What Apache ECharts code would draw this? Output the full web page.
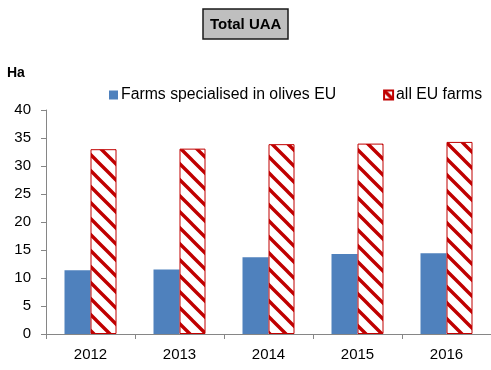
<!DOCTYPE html>
<html>
<head>
<meta charset="utf-8">
<script src="https://cdn.jsdelivr.net/npm/echarts@6/dist/echarts.min.js"></script>
<style>
  html, body { margin: 0; padding: 0; background: #ffffff; }
  #chart { width: 491px; height: 370px; }
</style>
</head>
<body>
<div id="chart"></div>
<script>
// Average utilised agricultural area per farm (ha)
var years = ['2012', '2013', '2014', '2015', '2016'];
var oliveFarms = [11.4, 11.5, 13.7, 14.3, 14.4];
var allFarms = [33.0, 33.1, 33.9, 34.0, 34.3];
var yTicks = [0, 5, 10, 15, 20, 25, 30, 35, 40];

var FONT = '"Liberation Sans", Arial, sans-serif';

// Diagonal red hatch tile ("\" direction) on white
function hatchTile() {
  var s = 16;
  var c = document.createElement('canvas');
  c.width = s; c.height = s;
  var g = c.getContext('2d');
  g.fillStyle = '#ffffff';
  g.fillRect(0, 0, s, s);
  g.strokeStyle = '#c00000';
  g.lineWidth = 3.4;
  g.lineCap = 'square';
  for (var k = -1; k <= 1; k++) {
    g.beginPath();
    g.moveTo(-2, -2 + k * s);
    g.lineTo(s + 2, s + 2 + k * s);
    g.stroke();
  }
  return c;
}

var chart = echarts.init(document.getElementById('chart'), null, { renderer: 'canvas' });

chart.setOption({
  animation: false,
  backgroundColor: '#ffffff',
  title: [
    {
      text: 'Total UAA',
      left: 203, top: 9,
      padding: [8, 7, 7, 7],
      backgroundColor: '#bfbfbf',
      borderColor: '#1a1a1a',
      borderWidth: 1.5,
      textStyle: { fontFamily: FONT, fontWeight: 'bold', fontSize: 15, color: '#000000' }
    },
    {
      text: 'Ha',
      left: 7, top: 66,
      padding: 0,
      textStyle: { fontFamily: FONT, fontWeight: 'bold', fontSize: 14, color: '#000000' }
    }
  ],
  legend: {
    top: 82,
    left: 104,
    itemGap: 47,
    itemWidth: 9,
    itemHeight: 9,
    textStyle: { fontFamily: FONT, fontSize: 15.8, color: '#000000', padding: [0, 0, 0, -2] },
    data: [
      { name: 'Farms specialised in olives EU', icon: 'rect' },
      { name: 'all EU farms', icon: 'rect' }
    ]
  },
  grid: { left: 46, width: 447, top: 110, bottom: 36, containLabel: false },
  xAxis: {
    type: 'category',
    data: years,
    axisLine: { lineStyle: { color: '#868686', width: 1 } },
    axisTick: { show: true, alignWithLabel: false, length: 5, lineStyle: { color: '#868686' } },
    axisLabel: { fontFamily: FONT, fontSize: 15, color: '#000000', margin: 13 }
  },
  yAxis: {
    type: 'value',
    min: yTicks[0],
    max: yTicks[yTicks.length - 1],
    interval: yTicks[1] - yTicks[0],
    splitLine: { show: false },
    axisLine: { show: true, lineStyle: { color: '#868686', width: 1 } },
    axisTick: { show: true, length: 5, lineStyle: { color: '#868686' } },
    axisLabel: { fontFamily: FONT, fontSize: 15, color: '#000000', margin: 15 }
  },
  series: [
    {
      name: 'Farms specialised in olives EU',
      type: 'bar',
      data: oliveFarms,
      barWidth: 26,
      barGap: '0%',
      itemStyle: { color: '#4f81bd' }
    },
    {
      name: 'all EU farms',
      type: 'bar',
      data: allFarms,
      barWidth: 26,
      barGap: '0%',
      itemStyle: {
        color: { image: hatchTile(), repeat: 'repeat' },
        borderColor: '#c00000',
        borderWidth: 1
      }
    }
  ]
});
</script>
</body>
</html>
